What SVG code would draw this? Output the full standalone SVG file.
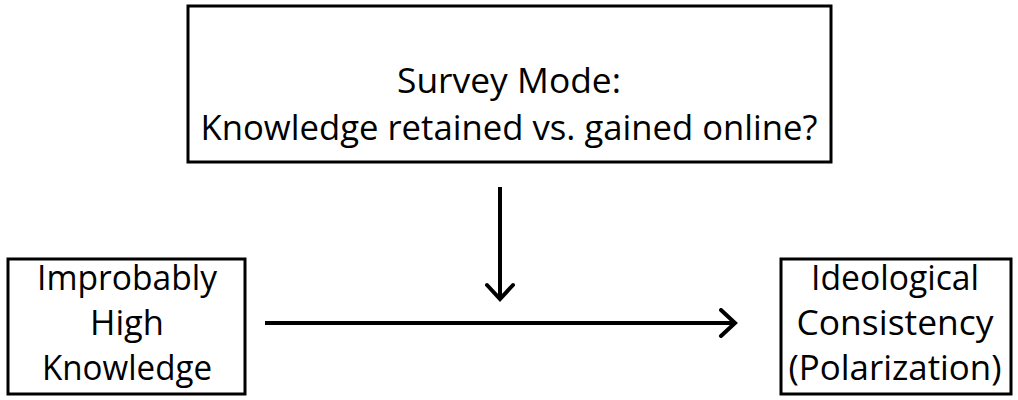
<svg xmlns="http://www.w3.org/2000/svg" width="1018" height="400" viewBox="0 0 1018 400">
  <defs>
    <marker id="chev" viewBox="0 0 20 30" refX="17" refY="15" markerWidth="20" markerHeight="30" markerUnits="userSpaceOnUse" orient="auto">
      <polyline points="3,2 17,15 3,28" fill="none" stroke="#000" stroke-width="4" stroke-linecap="round" stroke-linejoin="miter"/>
    </marker>
  </defs>
  <style>
    .box { fill: #fff; stroke: #000; stroke-width: 3; }
    .lbl { font-family: "Open Sans", "Noto Sans", sans-serif; font-size: 35px; fill: #000; text-anchor: middle; }
    .link { stroke: #000; stroke-width: 4; fill: none; }
  </style>
  <rect width="1018" height="400" fill="#fff"/>

  <g id="survey-mode">
    <rect class="box" x="188" y="6" width="643" height="156"/>
    <text class="lbl" x="509" y="93" textLength="224" lengthAdjust="spacingAndGlyphs">Survey Mode:</text>
    <text class="lbl" x="509" y="140" textLength="617" lengthAdjust="spacingAndGlyphs">Knowledge retained vs. gained online?</text>
  </g>

  <g id="high-knowledge">
    <rect class="box" x="8" y="259" width="237" height="135"/>
    <text class="lbl" x="127" y="290" textLength="180" lengthAdjust="spacingAndGlyphs">Improbably</text>
    <text class="lbl" x="127" y="335" textLength="74" lengthAdjust="spacingAndGlyphs">High</text>
    <text class="lbl" x="127" y="380" textLength="170" lengthAdjust="spacingAndGlyphs">Knowledge</text>
  </g>

  <g id="consistency">
    <rect class="box" x="781" y="259" width="230" height="135"/>
    <text class="lbl" x="895" y="290" textLength="168" lengthAdjust="spacingAndGlyphs">Ideological</text>
    <text class="lbl" x="895" y="335" textLength="197" lengthAdjust="spacingAndGlyphs">Consistency</text>
    <text class="lbl" x="895" y="380" textLength="213" lengthAdjust="spacingAndGlyphs">(Polarization)</text>
  </g>

  <g id="connectors">
    <line class="link" x1="500" y1="187" x2="500" y2="299" marker-end="url(#chev)"/>
    <line class="link" x1="265" y1="323" x2="735" y2="323" marker-end="url(#chev)"/>
  </g>
</svg>
